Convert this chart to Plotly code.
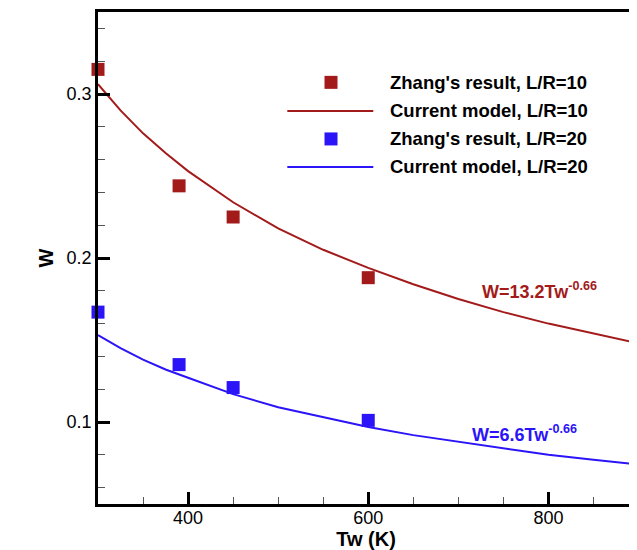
import plotly.graph_objects as go

# ---- data ----
tw_zhang = [300, 390, 450, 600, 900]
w_zhang_10 = [0.315, 0.244, 0.225, 0.188, 0.159]
w_zhang_20 = [0.167, 0.135, 0.121, 0.101, 0.084]

tw_model = [300, 325, 350, 375, 400, 450, 500, 550, 600, 650, 700, 750, 800, 850, 900]
w_model_10 = [0.306, 0.290, 0.276, 0.264, 0.253, 0.234, 0.218, 0.205, 0.194, 0.184, 0.175, 0.167, 0.160, 0.154, 0.148]
w_model_20 = [0.153, 0.145, 0.138, 0.132, 0.127, 0.117, 0.109, 0.103, 0.097, 0.092, 0.088, 0.084, 0.080, 0.077, 0.074]

legend_names = ["Zhang's result, L/R=10", "Current model, L/R=10",
                "Zhang's result, L/R=20", "Current model, L/R=20"]

RED = "#A31A1A"
BLUE = "#2B14F8"
FONT = "Arial, Liberation Sans, sans-serif"

fig = go.Figure()
fig.add_trace(go.Scatter(x=tw_model, y=w_model_10, mode="lines",
                         line=dict(color=RED, width=2), name=legend_names[1], showlegend=False))
fig.add_trace(go.Scatter(x=tw_model, y=w_model_20, mode="lines",
                         line=dict(color=BLUE, width=2), name=legend_names[3], showlegend=False))
fig.add_trace(go.Scatter(x=tw_zhang, y=w_zhang_10, mode="markers", cliponaxis=False,
                         marker=dict(symbol="square", size=13, color=RED),
                         name=legend_names[0], showlegend=False))
fig.add_trace(go.Scatter(x=tw_zhang, y=w_zhang_20, mode="markers", cliponaxis=False,
                         marker=dict(symbol="square", size=13, color=BLUE),
                         name=legend_names[2], showlegend=False))

# ---- custom legend (paper coordinates) ----
legend_rows = [0.857, 0.799, 0.742, 0.685]
legend_kinds = ["marker", "line", "marker", "line"]
legend_colors = [RED, RED, BLUE, BLUE]
shapes = []
annotations = []
for name, kind, col, yy in zip(legend_names, legend_kinds, legend_colors, legend_rows):
    if kind == "marker":
        shapes.append(dict(type="rect", xref="paper", yref="paper",
                           xsizemode="pixel", ysizemode="pixel",
                           xanchor=0.4347, yanchor=yy,
                           x0=-6.5, x1=6.5, y0=-6.5, y1=6.5,
                           fillcolor=col, line=dict(width=0)))
    else:
        shapes.append(dict(type="line", xref="paper", yref="paper",
                           x0=0.3532, x1=0.5136, y0=yy, y1=yy,
                           line=dict(color=col, width=2)))
    annotations.append(dict(x=0.5416, y=yy, xref="paper", yref="paper",
                            xanchor="left", yanchor="middle", showarrow=False,
                            text="<b>%s</b>" % name,
                            font=dict(family=FONT, size=18.5, color="black")))

annotations.append(dict(x=724, y=0.180, xref="x", yref="y", xanchor="left", yanchor="middle",
                        showarrow=False, text="<b>W=13.2Tw<sup>-0.66</sup></b>",
                        font=dict(family=FONT, size=18, color=RED)))
annotations.append(dict(x=713, y=0.093, xref="x", yref="y", xanchor="left", yanchor="middle",
                        showarrow=False, text="<b>W=6.6Tw<sup>-0.66</sup></b>",
                        font=dict(family=FONT, size=18, color=BLUE)))

axis_common = dict(showline=True, linecolor="black", linewidth=2.5, mirror=True,
                   showgrid=False, zeroline=False, ticks="inside", tickcolor="black",
                   tickwidth=2.5, ticklen=12, automargin=False,
                   tickfont=dict(family=FONT, size=18, color="black"))

# page body adds an 8px offset, so the figure is 8px smaller and margins shifted
fig.update_layout(
    width=629, height=542,
    margin=dict(l=90, r=3, t=4, b=46),
    paper_bgcolor="white", plot_bgcolor="white",
    showlegend=False,
    shapes=shapes, annotations=annotations,
    xaxis=dict(range=[300, 895], tick0=400, dtick=200, ticklabelstandoff=-4,
               minor=dict(dtick=50, tick0=300, ticks="inside", ticklen=7, tickwidth=1.2,
                          tickcolor="#555555"),
               title=dict(text="<b>Tw (K)</b>", standoff=0,
                          font=dict(family=FONT, size=20, color="black")),
               **axis_common),
    yaxis=dict(range=[0.05, 0.35], tick0=0.1, dtick=0.1,
               minor=dict(dtick=0.02, tick0=0.0, ticks="inside", ticklen=7, tickwidth=1.2,
                          tickcolor="#555555"),
               title=dict(text="<b>W</b>", standoff=8,
                          font=dict(family=FONT, size=20, color="black")),
               **axis_common),
)

fig.write_html("out.html")
